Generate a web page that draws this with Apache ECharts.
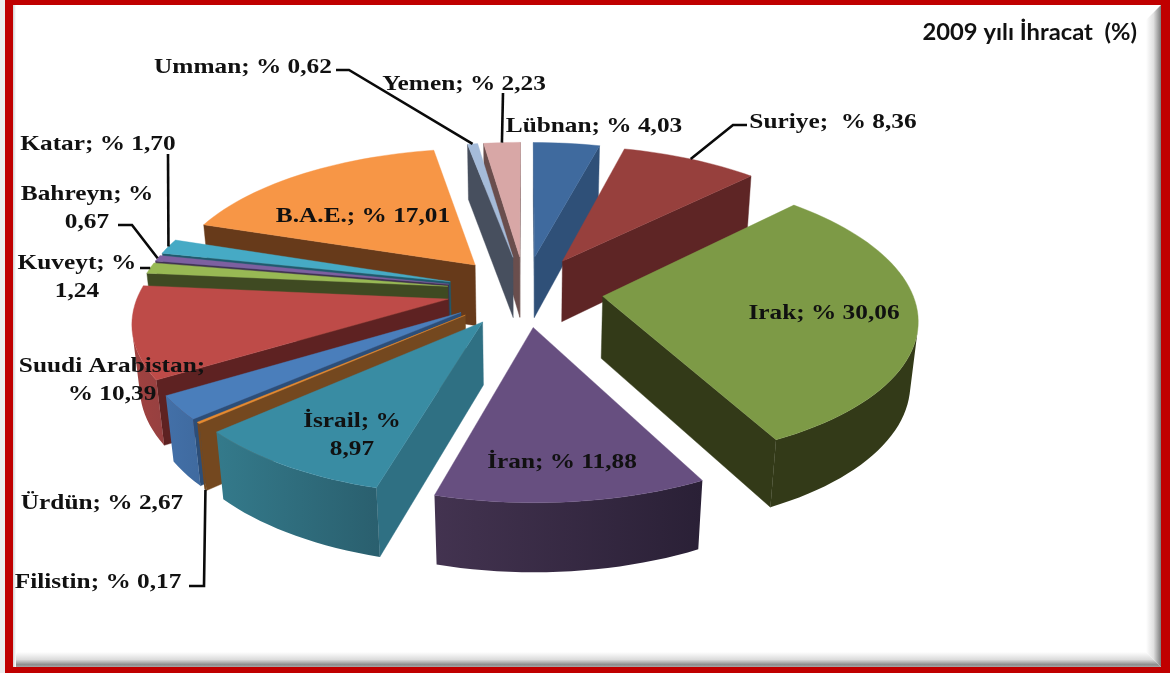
<!DOCTYPE html>
<html>
<head>
<meta charset="utf-8">
<style>html,body{margin:0;padding:0;background:#fff}#c{width:1170px;height:673px}</style>
<script src="https://cdn.jsdelivr.net/npm/echarts@6/dist/echarts.min.js"></script>
</head>
<body>
<div id="c"></div>
<script>
// ---- data ----
const categories = ['Lübnan','Suriye','Irak','İran','İsrail','Filistin','Ürdün','Suudi Arabistan','Kuveyt','Bahreyn','Katar','B.A.E.','Umman','Yemen'];
const shares = [4.03,8.36,30.06,11.88,8.97,0.17,2.67,10.39,1.24,0.67,1.70,17.01,0.62,2.23];
const separators = ['; % ',';  % ','; % ','; % ','; %\n','; % ','; % ',';\n% ','; %\n','; %\n','; % ','; % ','; % ','; % '];
const titleText = '2009 yılı İhracat  (%)';

// ---- styles ----
const topColors  = ['#3F6A9E','#97403D','#7D9A46','#674F80','#398CA3','#E88A2E','#4A7EBB','#BE4B48','#98B954','#7D60A0','#46AAC5','#F79646','#A5BBD9','#D8A7A6'];
const sideColors = ['#2F5078','#5E2525','#333A18','#3A2B4A','#2F7083','#74481F','#2C4E78','#5E2222','#3F4A22','#3E3050','#1F5A6D','#673A1A','#474F5E','#6A4E4D'];
const wallLeft   = ['#2F5078','#5E2525','#333A18','#433350','#347A8B','#74481F','#4370A8','#A04240','#3F4A22','#3E3050','#1F5A6D','#673A1A','#474F5E','#6A4E4D'];
const wallRight  = ['#2F5078','#5E2525','#333A18','#2A2036','#2A5F6E','#74481F','#3F6A9F','#964040','#3F4A22','#3E3050','#1F5A6D','#673A1A','#474F5E','#6A4E4D'];

// ---- projection constants (screen layout of the tilted pie) ----
const CX = 525, CY = 291, AX = 309, BY = 139.5, PERSP = 0.14, EXPLODE = 0.253, DEPTH = 63, DEPTH_PERSP = 0.02;

// ---- label layout: [centre x, centre y] of each text block ----
const labelAt = [[594,126],[833,122],[824,313],[562,462],[352,435],[98,582],[102,503],[112,380],[77,277],[87,208],[98,144],[363,216],[243,67],[464,84]];
// leader polylines: fixed part near the label; the last point is taken from the slice
const leaders = {
  1:{pts:[[747,125],[733,125]]},
  5:{pts:[[189,586],[204,586]],low:true},
  8:{pts:[[140,268],[149,268]]},
  9:{pts:[[118,225],[132,225]]},
  10:{pts:[[168,154]]},
  12:{pts:[[336,70],[349,70]]},
  13:{pts:[[503,93]]}
};

// ---- geometry derived from the values ----
const total = shares.reduce((a,b)=>a+b,0);
const spans = []; let acc = 0;
shares.forEach(v=>{ const a0 = acc/total*2*Math.PI; acc += v; spans.push([a0, acc/total*2*Math.PI]); });
function project(i, radius, theta, low){
  const mid = (spans[i][0]+spans[i][1])/2;
  const X = radius*Math.sin(theta)+EXPLODE*Math.sin(mid);
  const Y = radius*Math.cos(theta)+EXPLODE*Math.cos(mid);
  const d = 1+PERSP*Y+(low?DEPTH_PERSP:0);
  return [CX+AX*X/d, CY+(-BY*Y+(low?DEPTH:0))/d];
}
function area(p){ let s=0; p.forEach((a,k)=>{const b=p[(k+1)%p.length]; s+=a[0]*b[1]-b[0]*a[1];}); return s/2; }

const paintOrder = categories.map((_,i)=>i).sort((a,b)=>{
  const m = i=>(spans[i][0]+spans[i][1])/2;
  return Math.cos(m(b))-Math.cos(m(a));
});

function renderSlice(params, api){
  const i = api.value(0);
  const [a0,a1] = spans[i];
  const n = Math.max(2, Math.ceil((a1-a0)/(Math.PI/90)));
  const angles = []; for(let k=0;k<=n;k++) angles.push(a0+(a1-a0)*k/n);
  const topArc = angles.map(t=>project(i,1,t,false));
  const lowArc = angles.map(t=>project(i,1,t,true));
  const apexT = project(i,0,0,false), apexL = project(i,0,0,true);
  const children = [];
  const poly = (points,fill)=>({type:'polygon',shape:{points},style:{fill,stroke:fill,lineWidth:0.4},silent:true});
  const sideA = [apexT,topArc[0],lowArc[0],apexL];
  if(area(sideA)<0) children.push(poly(sideA,sideColors[i]));
  const sideB = [topArc[n],apexT,apexL,lowArc[n]];
  if(area(sideB)<0) children.push(poly(sideB,sideColors[i]));
  const vis = [];
  for(let k=0;k<n;k++){ if(area([topArc[k],topArc[k+1],lowArc[k+1],lowArc[k]])<0) vis.push(k); }
  if(vis.length){
    const tp=[],lp=[];
    vis.forEach(k=>{tp.push(topArc[k]);lp.push(lowArc[k]);});
    const last=vis[vis.length-1]+1; tp.push(topArc[last]); lp.push(lowArc[last]);
    children.push({type:'polygon',shape:{points:tp.concat(lp.reverse())},silent:true,style:{
      fill:new echarts.graphic.LinearGradient(0,0,1,0,[{offset:0,color:wallLeft[i]},{offset:1,color:wallRight[i]}])}});
  }
  children.push(poly([apexT].concat(topArc),topColors[i]));
  return {type:'group',children};
}

function renderLabel(params, api){
  const i = api.value(0);
  const children = [];
  if(leaders[i]){
    const mid=(spans[i][0]+spans[i][1])/2;
    const end=project(i,1,mid,!!leaders[i].low);
    children.push({type:'polyline',shape:{points:leaders[i].pts.concat([end])},style:{stroke:'#0a0a0a',lineWidth:2.6,fill:null},silent:true});
  }
  children.push({type:'text',silent:true,x:labelAt[i][0],y:labelAt[i][1],scaleX:1.15,scaleY:1,style:{
    text:categories[i]+separators[i]+shares[i].toFixed(2).replace('.',','),
    font:'bold 22px "Liberation Serif"',fill:'#111',align:'center',verticalAlign:'middle',lineHeight:28}});
  return {type:'group',children};
}

const RED='#C00000';
const chart = echarts.init(document.getElementById('c'),null,{renderer:'canvas'});
chart.setOption({
  backgroundColor:'#fff',
  animation:false,
  graphic:[
    {type:'polygon',z:1,shape:{points:[[1161,5],[1161,667],[1146,652],[1146,20]]},style:{fill:new echarts.graphic.LinearGradient(0,0,1,0,[{offset:0,color:'#ffffff'},{offset:0.5,color:'#e0e0e0'},{offset:1,color:'#7c7c7c'}])}},
    {type:'polygon',z:1,shape:{points:[[13,667],[1161,667],[1146,652],[17,652]]},style:{fill:new echarts.graphic.LinearGradient(0,0,0,1,[{offset:0,color:'#ffffff'},{offset:0.5,color:'#dcdcdc'},{offset:0.85,color:'#8c8c8c'},{offset:1,color:'#a8a8a8'}])}},
    {type:'rect',z:1,shape:{x:13,y:5,width:3,height:662},style:{fill:new echarts.graphic.LinearGradient(0,0,1,0,[{offset:0,color:'#d0d0d0'},{offset:1,color:'#ffffff'}])}},
    {type:'rect',z:1,shape:{x:0,y:0,width:5,height:673},style:{fill:'#ececec'}},
    {type:'rect',z:2,shape:{x:5,y:0,width:1165,height:5},style:{fill:RED}},
    {type:'rect',z:2,shape:{x:5,y:667,width:1165,height:6},style:{fill:RED}},
    {type:'rect',z:2,shape:{x:5,y:0,width:8,height:673},style:{fill:RED}},
    {type:'rect',z:2,shape:{x:1161,y:0,width:9,height:673},style:{fill:RED}},
    {type:'text',z:5,x:1137,y:33,scaleX:1.08,scaleY:1,style:{text:titleText,font:'bold 22px Lato',fill:'#111',align:'right',verticalAlign:'middle'}}
  ],
  series:[
    {type:'custom',coordinateSystem:'none',z:3,silent:true,renderItem:renderSlice,data:paintOrder.map(i=>[i,shares[i]])},
    {type:'custom',coordinateSystem:'none',z:4,silent:true,renderItem:renderLabel,data:paintOrder.map(i=>[i,shares[i]])}
  ]
});
</script>
</body>
</html>
